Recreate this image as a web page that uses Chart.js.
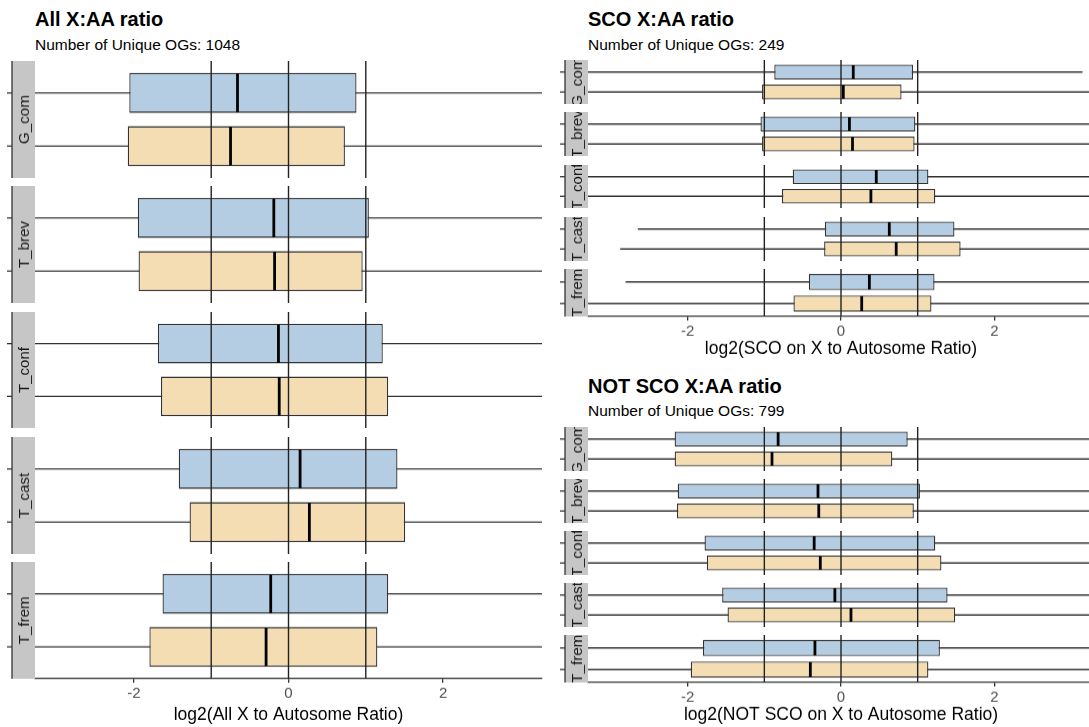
<!DOCTYPE html>
<html>
<head>
<meta charset="utf-8">
<script src="https://cdn.jsdelivr.net/npm/chart.js@4.4.0/dist/chart.umd.min.js"></script>
<style>
  body { margin: 0; width: 1089px; height: 727px; overflow: hidden; background: #fff; position: relative;
         font-family: "Liberation Sans", Arial, sans-serif; }
  .title { position: absolute; font-weight: bold; font-size: 20px; line-height: 20px; color: #000; white-space: nowrap; }
  .sub { position: absolute; font-size: 15.5px; line-height: 15.5px; color: #000; white-space: nowrap; }
  canvas { position: absolute; }
</style>
</head>
<body>
<script>
// facets and the two series in each facet
const species = ['G_com', 'T_brev', 'T_conf', 'T_cast', 'T_frem'];
const seriesNames = ['group 1', 'group 2'];
const refLines = [-1, 0, 1];

// one row per species: [whisker min, q1, median, q3, whisker max]
// whisker ends that run out of the plot were estimated past the edge
const allBlue = [[-3.6, -2.06, -0.66, 0.88, 3.6], [-3.6, -1.95, -0.19, 1.04, 3.6], [-3.6, -1.69, -0.13, 1.22, 3.6], [-3.6, -1.42, 0.15, 1.41, 3.6], [-3.6, -1.63, -0.23, 1.29, 3.6]];
const allTan = [[-3.6, -2.08, -0.75, 0.73, 3.6], [-3.6, -1.94, -0.18, 0.96, 3.6], [-3.6, -1.65, -0.12, 1.29, 3.6], [-3.6, -1.28, 0.27, 1.51, 3.6], [-3.6, -1.80, -0.29, 1.15, 3.6]];
const scoBlue = [[-3.6, -0.87, 0.16, 0.94, 3.15], [-3.6, -1.05, 0.11, 0.97, 3.6], [-3.6, -0.63, 0.46, 1.14, 3.6], [-2.65, -0.21, 0.63, 1.48, 3.6], [-2.81, -0.42, 0.37, 1.22, 3.6]];
const scoTan = [[-3.6, -1.03, 0.03, 0.79, 3.6], [-3.6, -1.03, 0.15, 0.96, 3.6], [-3.6, -0.77, 0.39, 1.23, 3.6], [-2.88, -0.22, 0.72, 1.56, 3.6], [-3.6, -0.62, 0.27, 1.18, 3.6]];
const notScoBlue = [[-3.6, -2.17, -0.82, 0.87, 3.6], [-3.6, -2.13, -0.30, 1.03, 3.6], [-3.6, -1.78, -0.35, 1.23, 3.6], [-3.6, -1.55, -0.08, 1.39, 3.6], [-3.6, -1.80, -0.34, 1.29, 3.6]];
const notScoTan = [[-3.6, -2.17, -0.90, 0.67, 3.6], [-3.6, -2.14, -0.29, 0.95, 3.6], [-3.6, -1.75, -0.27, 1.31, 3.6], [-3.6, -1.48, 0.13, 1.49, 3.6], [-3.6, -1.96, -0.40, 1.14, 3.6]];

const FONT = '"Liberation Sans", Arial, sans-serif';
const fills = ['#b4cde3', '#f5ddb3'];
const gap = 8.5;
const stripW = 23;

const panels = [
  { title: 'All X:AA ratio', subtitle: 'Number of Unique OGs: 1048', xTitle: 'log2(All X to Autosome Ratio)',
    series: [allBlue, allTan], x0: 0, left: 35, right: 542, min: -3.28, max: 3.28, top: 61, bottom: 679, titleTop: 9, subTop: 37 },
  { title: 'SCO X:AA ratio', subtitle: 'Number of Unique OGs: 249', xTitle: 'log2(SCO on X to Autosome Ratio)',
    series: [scoBlue, scoTan], x0: 545, left: 588, right: 1094, min: -3.3, max: 3.3, top: 60, bottom: 313, titleTop: 9, subTop: 37 },
  { title: 'NOT SCO X:AA ratio', subtitle: 'Number of Unique OGs: 799', xTitle: 'log2(NOT SCO on X to Autosome Ratio)',
    series: [notScoBlue, notScoTan], x0: 545, left: 588, right: 1094, min: -3.3, max: 3.3, top: 427, bottom: 679, titleTop: 376, subTop: 403 }
];

// x axis sizes (bottom facet only)
const tickLen = 4, tickPad = 2, tickSize = 15, titleSize = 17.5, titlePad = { top: 0, bottom: 4 };
const axisH = tickLen + tickSize * 1.2 + 2 * tickPad + titleSize * 1.2 + titlePad.top + titlePad.bottom;

function line(ctx, x1, y1, x2, y2) {
  ctx.beginPath(); ctx.moveTo(x1, y1); ctx.lineTo(x2, y2); ctx.stroke();
}

const boxPlugin = {
  id: 'boxParts',
  beforeDatasetsDraw(chart) {
    const { ctx, chartArea: a, scales: { x, y } } = chart;
    const rows = chart.options.plugins.boxParts.rows;
    ctx.save();
    ctx.beginPath(); ctx.rect(a.left, a.top, a.right - a.left, a.bottom - a.top); ctx.clip();
    ctx.strokeStyle = '#333'; ctx.lineWidth = 1.4;
    rows.forEach((r, i) => {
      const py = y.getPixelForValue(i + 1);
      line(ctx, x.getPixelForValue(r[0]), py, x.getPixelForValue(r[4]), py);
    });
    ctx.restore();
  },
  afterDatasetsDraw(chart) {
    const { ctx, chartArea: a, scales: { x, y } } = chart;
    const opts = chart.options.plugins.boxParts;
    const meta = chart.getDatasetMeta(0);
    ctx.save();
    ctx.strokeStyle = '#000'; ctx.lineWidth = 2.8;
    opts.rows.forEach((r, i) => {
      const bar = meta.data[i];
      const px = x.getPixelForValue(r[2]);
      line(ctx, px, bar.y - bar.height / 2 + 0.7, px, bar.y + bar.height / 2 - 0.7);
    });
    ctx.strokeStyle = '#222'; ctx.lineWidth = 1.4;
    refLines.forEach(v => {
      const px = x.getPixelForValue(v);
      line(ctx, px, a.top, px, a.bottom);
    });
    ctx.restore();
  },
  afterDraw(chart) {
    const { ctx, chartArea: a, scales: { y } } = chart;
    const opts = chart.options.plugins.boxParts;
    const sx = a.left - stripW;
    ctx.save();
    ctx.fillStyle = '#c6c6c6';
    ctx.fillRect(sx, a.top, stripW, a.bottom - a.top);
    ctx.beginPath(); ctx.rect(sx, a.top, stripW, a.bottom - a.top); ctx.clip();
    ctx.translate(sx + stripW / 2, (a.top + a.bottom) / 2);
    ctx.rotate(-Math.PI / 2);
    ctx.fillStyle = '#1a1a1a';
    ctx.font = '15px ' + FONT;
    ctx.textAlign = 'center'; ctx.textBaseline = 'middle';
    ctx.fillText(opts.label, 0, 1);
    ctx.restore();
    ctx.save();
    ctx.strokeStyle = '#333'; ctx.lineWidth = 1.3;
    line(ctx, sx, a.top, sx, a.bottom);
    opts.rows.forEach((r, i) => {
      const py = y.getPixelForValue(i + 1);
      line(ctx, sx - 5, py, sx, py);
    });
    ctx.restore();
  }
};

panels.forEach(p => {
  const t = document.createElement('div');
  t.className = 'title'; t.textContent = p.title;
  t.style.left = p.left + 'px'; t.style.top = p.titleTop + 'px';
  document.body.appendChild(t);
  const s = document.createElement('div');
  s.className = 'sub'; s.textContent = p.subtitle;
  s.style.left = p.left + 'px'; s.style.top = p.subTop + 'px';
  document.body.appendChild(s);

  const facetH = (p.bottom - p.top - gap * (species.length - 1)) / species.length;

  species.forEach((name, k) => {
    const last = k === species.length - 1;
    const rows = p.series.map(arr => arr[k]);
    const canvas = document.createElement('canvas');
    const w = p.right + 3 - p.x0;
    const h = facetH + (last ? axisH : 0);
    canvas.width = w; canvas.height = h;
    canvas.style.width = w + 'px'; canvas.style.height = h + 'px';
    canvas.style.left = p.x0 + 'px';
    canvas.style.top = (p.top + k * (facetH + gap)) + 'px';
    document.body.appendChild(canvas);

    new Chart(canvas, {
      type: 'bar',
      data: {
        datasets: [{
          label: name,
          data: rows.map((r, i) => ({ y: i + 1, x: [r[1], r[3]], name: seriesNames[i] })),
          backgroundColor: fills,
          borderColor: '#333',
          borderWidth: 1.3,
          borderSkipped: false,
          categoryPercentage: 1,
          barPercentage: 0.75
        }]
      },
      options: {
        indexAxis: 'y',
        responsive: false,
        animation: false,
        devicePixelRatio: 1,
        layout: { padding: { left: p.left - p.x0, right: 3, top: 0, bottom: 0 } },
        plugins: {
          legend: { display: false },
          tooltip: { enabled: false },
          boxParts: { rows: rows, label: name }
        },
        scales: {
          y: { type: 'linear', min: 0.4, max: 2.6, reverse: true, display: false, offset: false,
               grid: { offset: false }, ticks: { stepSize: 1, includeBounds: false } },
          x: {
            type: 'linear', min: p.min, max: p.max, display: last, offset: false,
            grid: { display: true, drawOnChartArea: false, drawTicks: true, tickLength: tickLen, color: '#333', lineWidth: 1.3 },
            border: { display: true, color: '#333', width: 1.3 },
            ticks: { stepSize: 2, includeBounds: false, padding: tickPad, color: '#4d4d4d', font: { size: tickSize, family: FONT } },
            title: { display: true, text: p.xTitle, color: '#000', padding: titlePad, font: { size: titleSize, family: FONT } }
          }
        }
      },
      plugins: [boxPlugin]
    });
  });
});
</script>
</body>
</html>
